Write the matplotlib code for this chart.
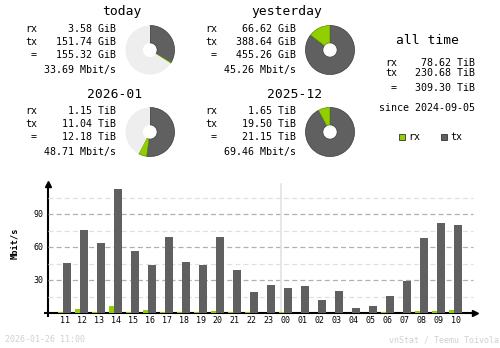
import numpy as np
import matplotlib
matplotlib.use("Agg")
import matplotlib.pyplot as plt

# summary values
periods = ["today", "yesterday", "2026-01", "2025-12"]
rx_text = ["3.58 GiB", "66.62 GiB", "1.15 TiB", "1.65 TiB"]
tx_text = ["151.74 GiB", "388.64 GiB", "11.04 TiB", "19.50 TiB"]
tot_text = ["155.32 GiB", "455.26 GiB", "12.18 TiB", "21.15 TiB"]
rate_text = ["33.69 Mbit/s", "45.26 Mbit/s", "48.71 Mbit/s", "69.46 Mbit/s"]
rx_vals = [3.58, 66.62, 1.15, 1.65]
tx_vals = [151.74, 388.64, 11.04, 19.50]
tot_vals = [155.32, 455.26, 12.18, 21.15]
# previous period total for each pie (None = full pie)
prev_vals = [455.26, None, 21.15, None]

alltime = ["78.62 TiB", "230.68 TiB", "309.30 TiB"]
since = "since 2024-09-05"

# hourly averages, Mbit/s
hours = ["11", "12", "13", "14", "15", "16", "17", "18", "19", "20", "21", "22",
         "23", "00", "01", "02", "03", "04", "05", "06", "07", "08", "09", "10"]
tx_hour = [45.8, 75.8, 63.9, 113.0, 56.7, 43.9, 69.4, 46.7, 43.9, 69.4, 39.4, 19.4,
           25.8, 23.0, 24.8, 12.1, 20.3, 4.8, 6.7, 15.8, 29.4, 68.5, 82.1, 80.3]
rx_hour = [1.2, 3.9, 1.2, 6.7, 1.2, 3.0, 1.2, 1.2, 1.2, 2.1, 1.2, 1.2,
           0, 1.2, 0, 0, 0, 0, 0, 1.2, 0, 2.1, 2.1, 3.0]

RX = "#92cf00"
TX = "#606060"
REST = "#eeeeee"
W, H = 500, 348
mono = "DejaVu Sans Mono"

fig = plt.figure(figsize=(W / 100, H / 100), dpi=100)
ov = fig.add_axes([0, 0, 1, 1])
ov.set_xlim(0, W)
ov.set_ylim(H, 0)
ov.axis("off")

def px(x, y, w, h):
    return [x / W, 1 - (y + h) / H, w / W, h / H]

# text blocks and pies
offsets = [(0, 0), (180, 0), (0, 82), (180, 82)]
for k, (dx, dy) in enumerate(offsets):
    ov.text(142 + dx, 12 + dy, periods[k], ha="right", va="center", family=mono, fontsize=9.4)
    ov.text(25 + dx, 29.5 + dy, "rx", ha="left", va="center", family=mono, fontsize=7.2)
    ov.text(25 + dx, 41.8 + dy, "tx", ha="left", va="center", family=mono, fontsize=7.2)
    ov.text(31 + dx, 55 + dy, "=", ha="left", va="center", family=mono, fontsize=7.2)
    ov.text(116 + dx, 29.5 + dy, rx_text[k], ha="right", va="center", family=mono, fontsize=7.2)
    ov.text(116 + dx, 41.8 + dy, tx_text[k], ha="right", va="center", family=mono, fontsize=7.2)
    ov.text(116 + dx, 55 + dy, tot_text[k], ha="right", va="center", family=mono, fontsize=7.2)
    ov.text(116 + dx, 70 + dy, rate_text[k], ha="right", va="center", family=mono, fontsize=7.2)

    cx, cy, R = 150 + dx, 50 + dy, 25
    pa = fig.add_axes(px(cx - R, cy - R, 2 * R, 2 * R))
    vals = [tx_vals[k], rx_vals[k]]
    cols = [TX, RX]
    if prev_vals[k] is not None:
        vals.append(prev_vals[k] - tot_vals[k])
        cols.append(REST)
    wedges, _ = pa.pie(vals, colors=cols, startangle=90, counterclock=False,
                       radius=1, wedgeprops=dict(width=0.71, linewidth=0))
    for wd, c in zip(wedges, cols):
        if c != REST:
            wd.set_edgecolor("#3a3a3a" if c == TX else "#5a8a00")
            wd.set_linewidth(0.5)
    pa.set_xlim(-1.02, 1.02)
    pa.set_ylim(-1.02, 1.02)

# all time block
ov.text(428, 40.7, "all time", ha="center", va="center", family=mono, fontsize=9.4)
for lab, val, y in zip(["rx", "tx", "="], alltime, [62.7, 73.3, 88.3]):
    ov.text(385 if lab != "=" else 391, y, lab, ha="left", va="center", family=mono, fontsize=7.2)
    ov.text(475, y, val, ha="right", va="center", family=mono, fontsize=7.2)
ov.text(475, 108.3, since, ha="right", va="center", family=mono, fontsize=7.2)

# legend
ov.add_patch(plt.Rectangle((399, 134), 6, 6, facecolor=RX, edgecolor="#333333", lw=0.6))
ov.text(408, 137, "rx", ha="left", va="center", family=mono, fontsize=7.2)
ov.add_patch(plt.Rectangle((441, 134), 6, 6, facecolor=TX, edgecolor="#333333", lw=0.6))
ov.text(450, 137, "tx", ha="left", va="center", family=mono, fontsize=7.2)

# bar chart axes: x in slot units (17 px), y in Mbit/s (1.1 px each)
x0_px, y0_px, top_px, right_px = 48, 313.3, 181.7, 477
slot = 17.0
xmin = -15 / slot
xmax = xmin + (right_px - x0_px) / slot
ymax = (y0_px - top_px) / 1.1
bx = fig.add_axes(px(x0_px, top_px, right_px - x0_px, y0_px - top_px))
bx.set_xlim(xmin, xmax)
bx.set_ylim(0, ymax)
bx.axis("off")
bx.patch.set_alpha(0)

gx = [xmin, xmin + (473 - x0_px) / slot]
for v in [15, 45, 75, 105]:
    bx.plot(gx, [v, v], color="#e0e0e0", lw=0.9, dashes=(4, 2.5), zorder=1)
for v in [30, 60, 90]:
    bx.plot(gx, [v, v], color="#b0b0b0", lw=0.9, dashes=(4, 2.5), zorder=1)

idx = np.arange(len(hours))
# day separator between 23 and 00
sep = hours.index("00") - 3.5 / slot
bx.plot([sep, sep], [0, (y0_px - 184) / 1.1], color="#e0e0e0", lw=1.1, zorder=1)

bx.bar(idx - 2.5 / slot, rx_hour, width=5 / slot, color=RX, zorder=2, linewidth=0)
bx.bar(idx + 4 / slot, tx_hour, width=8 / slot, color=TX, zorder=3, linewidth=0)

for i, h in enumerate(hours):
    bx.text(i + 1.7 / slot, -7.2 / 1.1, h, ha="center", va="center", family=mono, fontsize=6)
for v in [30, 60, 90]:
    bx.text(xmin - 5 / slot, v, str(v), ha="right", va="center", family=mono, fontsize=6)

# axes lines with arrows
ov.plot([x0_px, x0_px], [316.7, top_px + 2], color="black", lw=1.5, solid_capstyle="butt")
ov.plot([44.3, right_px - 2], [y0_px, y0_px], color="black", lw=1.5, solid_capstyle="butt")
ov.plot([x0_px], [top_px + 2], marker="^", color="black", markersize=4)
ov.plot([right_px - 2], [y0_px], marker=">", color="black", markersize=4)
ov.text(14.5, 243, "Mbit/s", rotation=90, ha="center", va="center", family=mono,
        fontsize=6.2, fontweight="bold")

# footer
ov.text(5, 340, "2026-01-26 11:00", ha="left", va="center", family=mono, fontsize=6, color="#d0d0d0")
ov.text(499, 340, "vnStat / Teemu Toivola", ha="right", va="center", family=mono, fontsize=6, color="#d0d0d0")

fig.savefig("out.png", dpi=100, facecolor="white")
